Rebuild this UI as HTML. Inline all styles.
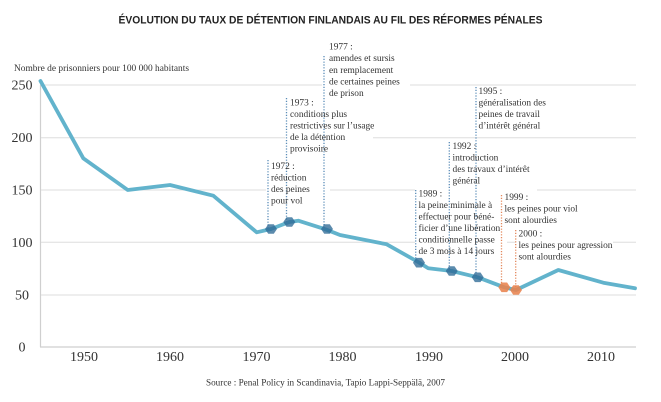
<!DOCTYPE html>
<html><head><meta charset="utf-8">
<style>
html,body{margin:0;padding:0;background:#fff;}
svg{display:block;}
.s{font-family:"Liberation Serif",serif;fill:#333;}
.a{font-family:"Liberation Serif",serif;fill:#333;font-size:9.4px;}
</style></head>
<body>
<svg width="661" height="402" viewBox="0 0 661 402" xmlns="http://www.w3.org/2000/svg">
<rect width="661" height="402" fill="#fff"/>
<text x="330.5" y="23.5" text-anchor="middle" font-family="'Liberation Sans',sans-serif" font-size="10.6" font-weight="bold" fill="#222" textLength="424" lengthAdjust="spacingAndGlyphs">ÉVOLUTION DU TAUX DE DÉTENTION FINLANDAIS AU FIL DES RÉFORMES PÉNALES</text>
<text class="s" x="14" y="71" font-size="9.2" textLength="175" lengthAdjust="spacingAndGlyphs">Nombre de prisonniers pour 100 000 habitants</text>

<!-- gridlines -->
<g stroke="#dedede" stroke-width="1">
<line x1="40" y1="85" x2="636" y2="85"/>
<line x1="40" y1="137.7" x2="636" y2="137.7"/>
<line x1="40" y1="190" x2="636" y2="190"/>
<line x1="40" y1="242.3" x2="636" y2="242.3"/>
<line x1="40" y1="295" x2="636" y2="295"/>
</g>
<g stroke="#cfcfcf" stroke-width="1.2">
<line x1="40" y1="347" x2="636" y2="347"/>
<line x1="40.5" y1="85" x2="40.5" y2="347"/>
</g>

<!-- y labels -->
<g class="s" font-size="14" text-anchor="middle">
<text x="22" y="89.5">250</text>
<text x="22" y="142.2">200</text>
<text x="22" y="194.5">150</text>
<text x="22" y="246.8">100</text>
<text x="22" y="299.5">50</text>
<text x="22" y="351.5">0</text>
</g>
<!-- x labels -->
<g class="s" font-size="14" text-anchor="middle">
<text x="84" y="361">1950</text>
<text x="170" y="361">1960</text>
<text x="256.5" y="361">1970</text>
<text x="342.5" y="361">1980</text>
<text x="429" y="361">1990</text>
<text x="515" y="361">2000</text>
<text x="601" y="361">2010</text>
</g>

<!-- white boxes behind annotations -->
<g fill="#fff">
<rect x="322" y="40" width="88" height="60"/>
<rect x="285" y="96" width="88" height="57"/>
<rect x="266" y="159" width="64" height="47"/>
<rect x="476" y="87" width="84" height="44"/>
<rect x="449" y="140" width="88" height="52"/>
<rect x="415" y="188" width="92" height="69"/>
<rect x="501" y="192" width="80" height="34"/>
<rect x="516" y="229" width="97" height="33"/>
</g>

<!-- data line -->
<polyline fill="none" stroke="#62b3cc" stroke-width="3.8" stroke-linejoin="round" stroke-linecap="round"
points="40.5,81 83.3,158.3 127.7,190 170,185 213.3,195.7 256.7,232.3 271,229 289.3,222 298.3,220.7 325.5,229.3 340,235 386.7,244.3 419,262.5 428.3,268.3 451.7,271 477.7,277.3 504.3,287.3 516,290 558.3,270 603.3,282.7 635,288.3"/>

<!-- dotted lines -->
<g stroke="#5b8db8" stroke-width="1.3" stroke-dasharray="1.2 1.6" fill="none">
<line x1="268" y1="160" x2="268" y2="229"/>
<line x1="286.5" y1="98" x2="286.5" y2="222"/>
<line x1="324" y1="56" x2="324" y2="229"/>
<line x1="415.7" y1="190" x2="415.7" y2="262"/>
<line x1="449.3" y1="142" x2="449.3" y2="271"/>
<line x1="476" y1="87" x2="476" y2="277"/>
</g>
<g stroke="#e3875a" stroke-width="1.3" stroke-dasharray="1.2 1.6" fill="none">
<line x1="501.5" y1="195" x2="501.5" y2="287"/>
<line x1="515.7" y1="230" x2="515.7" y2="290"/>
</g>

<!-- markers -->
<g fill="#2e6a96" fill-opacity="0.78">
<polygon points="276.5,229 273.3,233.8 267.7,233.8 264.5,229 267.7,224.2 273.3,224.2" transform="translate(0.5,0)"/>
<polygon points="295.3,222 292.1,226.8 286.5,226.8 283.3,222 286.5,217.2 292.1,217.2"/>
<polygon points="333,229 329.8,233.8 324.2,233.8 321,229 324.2,224.2 329.8,224.2"/>
<polygon points="425,262.7 421.8,267.5 416.2,267.5 413,262.7 416.2,257.9 421.8,257.9"/>
<polygon points="457.7,271 454.5,275.8 448.9,275.8 445.7,271 448.9,266.2 454.5,266.2"/>
<polygon points="483.7,277.3 480.5,282.1 474.9,282.1 471.7,277.3 474.9,272.5 480.5,272.5"/>
</g>
<g fill="#e8834f" fill-opacity="0.88">
<polygon points="510.3,287.3 507.1,292.1 501.5,292.1 498.3,287.3 501.5,282.5 507.1,282.5"/>
<polygon points="522,290 518.8,294.8 513.2,294.8 510,290 513.2,285.2 518.8,285.2"/>
</g>

<!-- annotations -->
<g class="a">
<text x="329" y="49.5">1977 :</text>
<text x="329" y="61.2">amendes et sursis</text>
<text x="329" y="72.8">en remplacement</text>
<text x="329" y="84.4">de certaines peines</text>
<text x="329" y="96">de prison</text>

<text x="290" y="105.5">1973 :</text>
<text x="290" y="117.1">conditions plus</text>
<text x="290" y="128.6">restrictives sur l’usage</text>
<text x="290" y="140.2">de la détention</text>
<text x="290" y="151.7">provisoire</text>

<text x="271" y="169">1972 :</text>
<text x="271" y="180.5">réduction</text>
<text x="271" y="192">des peines</text>
<text x="271" y="203.5">pour vol</text>

<text x="478.5" y="93.8">1995 :</text>
<text x="478.5" y="105.3">généralisation des</text>
<text x="478.5" y="116.8">peines de travail</text>
<text x="478.5" y="128.3">d’intérêt général</text>

<text x="452.5" y="149">1992 :</text>
<text x="452.5" y="160.5">introduction</text>
<text x="452.5" y="172">des travaux d’intérêt</text>
<text x="452.5" y="183.5">général</text>

<text x="418.5" y="196.5">1989 :</text>
<text x="418.5" y="208">la peine minimale à</text>
<text x="418.5" y="219.5">effectuer pour béné-</text>
<text x="418.5" y="231">ficier d’une libération</text>
<text x="418.5" y="242.5">conditionnelle passe</text>
<text x="418.5" y="254">de 3 mois à 14 jours</text>

<text x="504.5" y="200">1999 :</text>
<text x="504.5" y="211.5">les peines pour viol</text>
<text x="504.5" y="223">sont alourdies</text>

<text x="518.5" y="236.5">2000 :</text>
<text x="518.5" y="248">les peines pour agression</text>
<text x="518.5" y="259.5">sont alourdies</text>
</g>

<text class="s" x="325.5" y="385.5" font-size="9.2" text-anchor="middle" textLength="239" lengthAdjust="spacingAndGlyphs">Source : Penal Policy in Scandinavia, Tapio Lappi-Seppälä, 2007</text>
</svg>
</body></html>
